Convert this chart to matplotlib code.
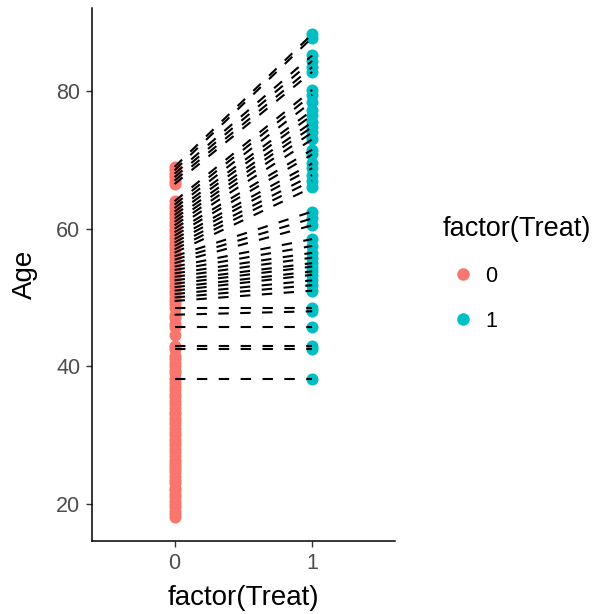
import matplotlib
matplotlib.use("Agg")
import matplotlib.pyplot as plt
from matplotlib.lines import Line2D

plt.rcParams["font.family"] = ["Liberation Sans", "DejaVu Sans"]

# Control ages (Treat = 0)
control_ages = [18.1, 18.5, 19, 19.5, 20, 20.4, 21, 21.5, 22, 22.3, 23, 23.5, 24, 24.6,
                25, 25.5, 26, 26.4, 27, 27.5, 28, 28.5, 29, 29.4, 30, 30.5, 31, 31.6,
                32, 32.5, 33, 33.4, 34, 34.5, 35, 35.5, 36, 36.5, 37, 37.5, 38.2, 39,
                39.5, 40, 40.5, 41, 41.5, 42.5, 43, 44.5, 45.7, 46.2, 47, 47.5, 48.5,
                49, 49.5, 50, 50.5, 51, 51.5, 52, 52.5, 53, 53.5, 54, 54.5, 55, 55.5,
                56, 56.5, 57, 57.5, 58, 58.5, 59, 59.5, 60, 60.5, 61, 61.5, 62, 62.5,
                63, 63.5, 64, 66.5, 67, 67.5, 68, 68.5, 69]

# Treated ages (Treat = 1) and their matched control ages
treated_ages = [88.3, 87.8, 85.2, 84.4, 83.5, 82.8, 80.2, 79.5, 78.5, 77.2, 76.5, 75.5,
                74.8, 74.0, 73.0, 71.5, 70.8, 69.5, 68.8, 67.8, 67.0, 66.0, 62.5, 61.5,
                60.5, 58.5, 57.5, 56.5, 55.8, 55.0, 54.5, 53.8, 53.3, 52.5, 51.8, 51.0,
                48.5, 48.0, 45.7, 43.0, 42.5, 38.2]
matched_control = [69.0, 68.5, 68.0, 67.5, 67.0, 66.5, 64.0, 63.5, 63.0, 62.5, 62.0, 61.5,
                   61.0, 60.5, 60.0, 59.5, 59.0, 58.5, 58.0, 57.5, 57.0, 56.5, 56.0, 55.5,
                   55.0, 54.5, 54.0, 53.5, 53.0, 52.5, 52.0, 51.5, 51.0, 50.5, 50.0, 49.5,
                   48.5, 47.5, 45.7, 43.0, 42.5, 38.2]

groups = ["0", "1"]
colors = ["#F8766D", "#00BFC4"]

fig = plt.figure(figsize=(5.99, 6.14), dpi=100)
ax = fig.add_axes([0.1536, 0.1189, 0.659 - 0.1536, 0.987 - 0.1189])

ax.scatter([0] * len(control_ages), control_ages, s=75, color=colors[0], zorder=2, linewidths=0)
ax.scatter([1] * len(treated_ages), treated_ages, s=75, color=colors[1], zorder=2, linewidths=0)

for c, t in zip(matched_control, treated_ages):
    ax.plot([0, 1], [c, t], color="black", lw=1.5, linestyle=(0, (5, 5.5)), zorder=3)

ax.set_xlim(-0.6, 1.6)
ax.set_ylim(14.6, 92.1)
ax.set_xticks([0, 1])
ax.set_xticklabels(groups)
ax.set_yticks([20, 40, 60, 80])

for s in ["top", "right"]:
    ax.spines[s].set_visible(False)
for s in ["left", "bottom"]:
    ax.spines[s].set_linewidth(1.1)
    ax.spines[s].set_color("black")

ax.tick_params(axis="both", length=4.5, width=1.0, color="#333333",
               labelsize=15.5, labelcolor="#4D4D4D", pad=4)
ax.set_xlabel("factor(Treat)", fontsize=20, labelpad=8)
ax.set_ylabel("Age", fontsize=20, labelpad=13)

handles = [Line2D([0], [0], marker="o", linestyle="none", markersize=9,
                  markerfacecolor=col, markeredgewidth=0) for col in colors]
leg = fig.legend(handles, groups, title="factor(Treat)", loc="upper left",
                 bbox_to_anchor=(0.724, 0.663), frameon=False, fontsize=15.5,
                 title_fontsize=19.5, labelspacing=1.12, handletextpad=0.05,
                 borderaxespad=0, handlelength=1.95)
leg._legend_box.align = "left"

fig.savefig("out.png", dpi=100)
